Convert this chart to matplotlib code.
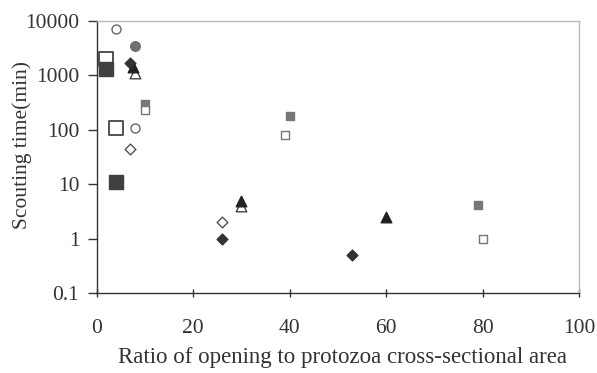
import matplotlib
matplotlib.use("Agg")
import matplotlib.pyplot as plt

plt.rcParams['font.family'] = ['Liberation Serif', 'DejaVu Serif']

# series data (x = ratio, y = scouting time in min)
gray_sq_x = [10, 40, 79]
gray_sq_y = [300, 180, 4.2]
open_sq_x = [10, 39, 80]
open_sq_y = [230, 80, 1.0]
blk_tri_x = [7.5, 30, 60]
blk_tri_y = [1400, 5, 2.5]
blk_dia_x = [7, 26, 53]
blk_dia_y = [1700, 1.0, 0.5]
open_dia_x = [7, 26]
open_dia_y = [45, 2.0]
open_tri_x = [8, 30]
open_tri_y = [1100, 4.0]
big_open_sq_x = [2, 4]
big_open_sq_y = [2000, 110]
big_dark_sq_x = [2, 4]
big_dark_sq_y = [1300, 11]
open_circ_x = [4, 8]
open_circ_y = [7000, 110]
gray_circ_x = [8]
gray_circ_y = [3400]

xticks = [0, 20, 40, 60, 80, 100]
yticks = [0.1, 1, 10, 100, 1000, 10000]
ytick_labels = ['0.1', '1', '10', '100', '1000', '10000']

fig = plt.figure(figsize=(5.97, 3.73), dpi=100)
ax = fig.add_axes([0.162, 0.214, 0.808, 0.73])

txt = '#333333'
ax.scatter(big_open_sq_x, big_open_sq_y, marker='s', s=95, facecolor='white', edgecolor='#444444', linewidths=1.3, zorder=3)
ax.scatter(big_dark_sq_x, big_dark_sq_y, marker='s', s=95, facecolor='#404040', edgecolor='#404040', zorder=3)
ax.scatter(open_circ_x, open_circ_y, marker='o', s=42, facecolor='white', edgecolor='#666666', linewidths=1.0, zorder=3)
ax.scatter(gray_circ_x, gray_circ_y, marker='o', s=48, facecolor='#707070', edgecolor='#707070', zorder=3)
ax.scatter(open_tri_x, open_tri_y, marker='^', s=58, facecolor='white', edgecolor='#444444', linewidths=1.0, zorder=3)
ax.scatter(blk_tri_x, blk_tri_y, marker='^', s=58, facecolor='#222222', edgecolor='#222222', zorder=4)
ax.scatter(blk_dia_x, blk_dia_y, marker='D', s=30, facecolor='#333333', edgecolor='#333333', zorder=4)
ax.scatter(open_dia_x, open_dia_y, marker='D', s=30, facecolor='white', edgecolor='#555555', linewidths=1.0, zorder=3)
ax.scatter(gray_sq_x, gray_sq_y, marker='s', s=32, facecolor='#777777', edgecolor='#777777', zorder=3)
ax.scatter(open_sq_x, open_sq_y, marker='s', s=32, facecolor='white', edgecolor='#777777', linewidths=1.0, zorder=3)

ax.set_yscale('log')
ax.set_xlim(0, 100)
ax.set_ylim(0.1, 10000)
ax.set_xticks(xticks)
ax.set_xticklabels([str(v) for v in xticks])
ax.set_yticks(yticks)
ax.set_yticklabels(ytick_labels)
ax.yaxis.set_minor_locator(matplotlib.ticker.NullLocator())

ax.tick_params(axis='y', direction='out', length=6.5, width=1, colors='#333333',
               labelsize=15.5, labelcolor=txt, pad=6)
ax.tick_params(axis='x', direction='inout', length=6, width=1, colors='#333333',
               labelsize=15.5, labelcolor=txt, pad=15.5)
for s in ['left', 'bottom']:
    ax.spines[s].set_color('#333333')
    ax.spines[s].set_linewidth(1.0)
for s in ['top', 'right']:
    ax.spines[s].set_color('#bbbbbb')
    ax.spines[s].set_linewidth(1.0)

ax.set_xlabel('Ratio of opening to protozoa cross-sectional area', fontsize=16.5, color=txt)
ax.set_ylabel('Scouting time(min)', fontsize=15.5, color=txt)
ax.xaxis.set_label_coords(0.509, -0.235)
ax.xaxis.label.set_va('center')
ax.yaxis.set_label_coords(-0.155, 0.544)
ax.yaxis.label.set_va('center')

fig.savefig('out.png', dpi=100)
